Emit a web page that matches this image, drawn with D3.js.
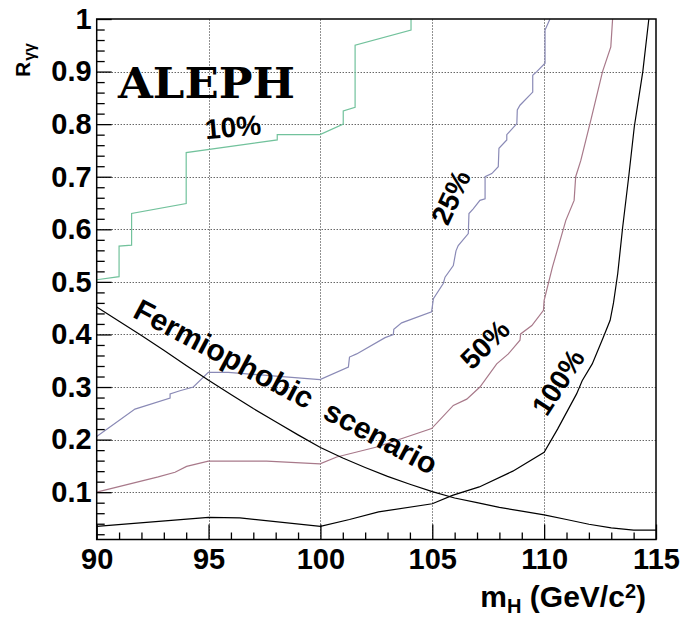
<!DOCTYPE html>
<html>
<head>
<meta charset="utf-8">
<script src="https://cdn.jsdelivr.net/npm/d3@7"></script>
<style>
  html, body { margin: 0; padding: 0; background: #fff; }
  svg { display: block; }
  text { font-family: "Liberation Sans", Arial, Helvetica, sans-serif; font-weight: bold; fill: #000; }
</style>
</head>
<body>
<svg id="chart" width="686" height="625"></svg>
<script>
// ---------- data (m_H in GeV/c^2, R_gamma-gamma) ----------
const massTicks = [90, 95, 100, 105, 110, 115];
const rTicks = [0.1, 0.2, 0.3, 0.4, 0.5, 0.6, 0.7, 0.8, 0.9, 1];
const rTickLabels = ["0.1", "0.2", "0.3", "0.4", "0.5", "0.6", "0.7", "0.8", "0.9", "1"];

const contour10 = [
  [90, 0.504], [91.0, 0.510], [91.0, 0.568], [91.56, 0.570], [91.56, 0.630],
  [94.0, 0.649], [94.0, 0.746], [98.07, 0.770], [98.07, 0.780], [99.98, 0.780],
  [101.02, 0.800], [101.02, 0.825], [101.55, 0.832], [101.55, 0.950],
  [104.05, 0.979], [104.05, 1.0]
];
const contour25 = [
  [90, 0.206], [91.71, 0.258], [93.28, 0.279], [93.28, 0.287], [93.72, 0.293],
  [94.32, 0.300], [94.99, 0.328], [95.88, 0.328], [99.98, 0.314], [101.25, 0.338],
  [101.30, 0.357], [101.62, 0.363], [102.89, 0.394], [103.26, 0.400], [103.28, 0.410],
  [103.63, 0.422], [104.97, 0.443], [105.05, 0.468], [105.49, 0.497], [105.57, 0.509],
  [105.94, 0.531], [106.06, 0.559], [106.16, 0.569], [106.61, 0.592], [106.64, 0.630],
  [106.83, 0.639], [107.13, 0.655], [107.36, 0.658], [107.36, 0.700], [107.66, 0.706],
  [107.95, 0.719], [107.98, 0.754], [108.33, 0.770], [108.33, 0.780], [108.78, 0.801],
  [108.80, 0.827], [108.92, 0.836], [109.49, 0.861], [109.49, 0.893], [109.67, 0.900],
  [110.04, 0.916], [110.04, 0.979], [110.26, 1.0]
];
const contour50 = [
  [90, 0.100], [92.75, 0.129], [93.5, 0.138], [94.02, 0.149], [94.99, 0.159],
  [97.6, 0.159], [99.98, 0.154], [100.73, 0.167], [102.52, 0.186], [104.97, 0.221],
  [105.94, 0.265], [106.54, 0.277], [107.13, 0.300], [107.88, 0.344], [108.4, 0.363],
  [108.92, 0.389], [108.95, 0.401], [109.45, 0.417], [109.97, 0.446], [110.0, 0.465],
  [110.37, 0.528], [110.97, 0.617], [111.34, 0.655], [111.41, 0.700], [111.64, 0.731],
  [112.09, 0.808], [112.61, 0.900], [112.98, 0.947], [113.06, 1.0]
];
const contour100 = [
  [90, 0.035], [95, 0.052], [96.4, 0.051], [100, 0.035], [101.3, 0.048],
  [102.6, 0.0625], [105, 0.078], [105.9, 0.094], [107.1, 0.110], [108.6, 0.140],
  [110, 0.176], [110.6, 0.220], [111.45, 0.287], [111.7, 0.312], [112.15, 0.344],
  [112.65, 0.395], [112.95, 0.427], [113.1, 0.460], [113.29, 0.516], [113.51, 0.604],
  [113.78, 0.700], [114.03, 0.795], [114.41, 0.900], [114.68, 1.0]
];
const fermiophobic = [
  [90, 0.452], [91, 0.425], [92, 0.398], [93, 0.370], [94, 0.341], [95, 0.313],
  [96, 0.286], [97, 0.259], [98, 0.234], [99, 0.209], [100, 0.185], [101, 0.165],
  [102, 0.147], [103, 0.130], [104, 0.115], [105, 0.101], [106, 0.089], [107, 0.080],
  [108, 0.071], [109, 0.064], [110, 0.057], [111, 0.048], [112, 0.039], [113, 0.032],
  [114, 0.028], [115, 0.028]
];

const curveNames = ["10%", "25%", "50%", "100%"];
const curveColors = ["#72c29c", "#8a8ab6", "#a8798a", "#000000"];
// label anchor in data units and rotation angle
const labelMass = [96.09, 105.84, 107.36, 110.63];
const labelR = [0.794, 0.661, 0.381, 0.309];
const labelAngle = [-5, -65, -45, -57];

// ---------- scales ----------
const x = d3.scaleLinear().domain([90, 115]).range([96.7, 656]);
const y = d3.scaleLinear().domain([0.01, 1]).range([539.5, 19]);

const svg = d3.select("#chart");

// grid
const grid = svg.append("g").attr("stroke", "#222").attr("stroke-width", 1).attr("stroke-dasharray", "1,2");
grid.selectAll("line.gx").data(massTicks.slice(1, -1)).join("line")
  .attr("x1", d => Math.round(x(d)) + 0.5).attr("x2", d => Math.round(x(d)) + 0.5)
  .attr("y1", y(0.01)).attr("y2", y(1));
grid.selectAll("line.gy").data(rTicks.slice(0, -1)).join("line")
  .attr("y1", d => Math.round(y(d)) + 0.5).attr("y2", d => Math.round(y(d)) + 0.5)
  .attr("x1", x(90)).attr("x2", x(115));

// curves
const line = d3.line().x(d => x(d[0])).y(d => y(d[1]));
const curves = [contour10, contour25, contour50, contour100];
svg.append("g").selectAll("path").data(curves).join("path")
  .attr("d", line).attr("fill", "none")
  .attr("stroke", (d, i) => curveColors[i]).attr("stroke-width", 1.2);
svg.append("path").datum(fermiophobic).attr("d", line)
  .attr("fill", "none").attr("stroke", "#000").attr("stroke-width", 1.2);

// frame
svg.append("rect").attr("x", x(90)).attr("y", y(1))
  .attr("width", x(115) - x(90)).attr("height", y(0.01) - y(1))
  .attr("fill", "none").attr("stroke", "#000").attr("stroke-width", 1.5);

// axes
const minorX = d3.range(91, 115).filter(v => v % 5 !== 0);
const minorY = d3.range(1, 50).map(v => +(v * 0.02).toFixed(2)).filter(v => Math.abs(v * 10 - Math.round(v * 10)) > 1e-6);

const xAxis = svg.append("g").attr("transform", `translate(0,${y(0.01)})`)
  .call(d3.axisBottom(x).tickValues(massTicks).tickSizeInner(-15).tickSizeOuter(0).tickPadding(9));
xAxis.select(".domain").remove();
xAxis.selectAll("text").style("font-size", "29px");
xAxis.selectAll("line").attr("stroke-width", 1.3);

const xMinor = svg.append("g").attr("transform", `translate(0,${y(0.01)})`)
  .call(d3.axisBottom(x).tickValues(minorX).tickFormat("").tickSizeInner(-7).tickSizeOuter(0));
xMinor.select(".domain").remove();
xMinor.selectAll("line").attr("stroke-width", 1.3);

const yAxis = svg.append("g").attr("transform", `translate(${x(90)},0)`)
  .call(d3.axisLeft(y).tickValues(rTicks).tickFormat((d, i) => rTickLabels[i]).tickSizeInner(-15).tickSizeOuter(0).tickPadding(5));
yAxis.select(".domain").remove();
yAxis.selectAll("text").style("font-size", "29px");
yAxis.selectAll("line").attr("stroke-width", 1.3);

const yMinor = svg.append("g").attr("transform", `translate(${x(90)},0)`)
  .call(d3.axisLeft(y).tickValues(minorY).tickFormat("").tickSizeInner(-8).tickSizeOuter(0));
yMinor.select(".domain").remove();
yMinor.selectAll("line").attr("stroke-width", 1.3);

// contour labels
svg.append("g").selectAll("text").data(curveNames).join("text")
  .attr("transform", (d, i) => `translate(${x(labelMass[i])},${y(labelR[i])}) rotate(${labelAngle[i]})`)
  .attr("text-anchor", "middle").attr("dominant-baseline", "central")
  .style("font-size", "28px").text(d => d);

// Fermiophobic scenario label
svg.append("text")
  .attr("transform", `translate(${x(91.56)},${y(0.434)}) rotate(28)`)
  .attr("xml:space", "preserve").style("white-space", "pre")
  .style("font-size", "30px").text("Fermiophobic  scenario");

// ALEPH
svg.append("text")
  .attr("x", x(90.95)).attr("y", y(0.850))
  .attr("textLength", 177).attr("lengthAdjust", "spacingAndGlyphs")
  .style("font-family", "'DejaVu Serif', 'Liberation Serif', serif")
  .style("font-size", "42px").text("ALEPH");

// axis titles
const yt = svg.append("text").attr("transform", "translate(30,77) rotate(-90)")
  .attr("text-anchor", "start").style("font-size", "21px");
yt.append("tspan").text("R");
yt.append("tspan").attr("dx", "1").attr("dy", "0.3em").style("font-size", "16px").text("γγ");

const xt = svg.append("text").attr("x", 646).attr("y", 607)
  .attr("text-anchor", "end").style("font-size", "30px");
xt.append("tspan").text("m");
xt.append("tspan").attr("dy", "0.3em").style("font-size", "20px").text("H");
xt.append("tspan").attr("dy", "-0.2em").text(" (GeV/c");
xt.append("tspan").attr("dy", "-0.45em").style("font-size", "20px").text("2");
xt.append("tspan").attr("dy", "0.31em").text(")");
</script>
</body>
</html>
